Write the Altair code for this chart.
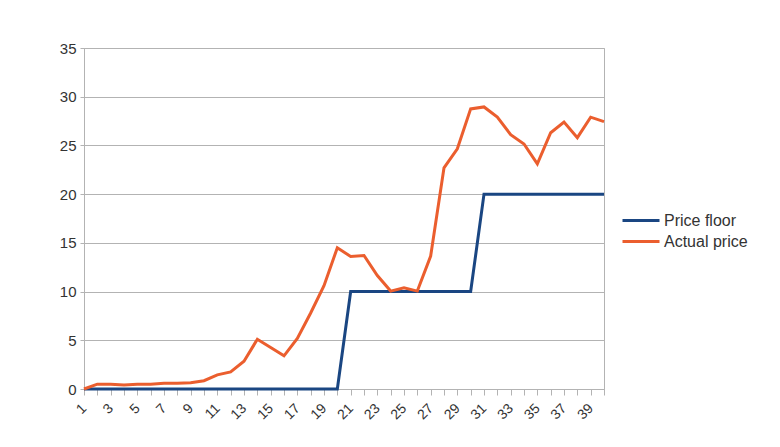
import altair as alt
import pandas as pd

periods = list(range(1, 41))
price_floor = [0]*20 + [10]*10 + [20]*10
actual_price = [0, 0.5, 0.5, 0.4, 0.5, 0.5, 0.6, 0.6, 0.65, 0.85,
                1.45, 1.75, 2.85, 5.1, 4.25, 3.4, 5.2, 7.8, 10.6, 14.5,
                13.6, 13.7, 11.65, 10.05, 10.4, 10.05, 13.65, 22.7, 24.65, 28.75,
                28.95, 27.9, 26.1, 25.15, 23.1, 26.3, 27.4, 25.8, 27.9, 27.45]
series_names = ["Price floor", "Actual price"]
colors = ["#1a4682", "#eb5e2e"]

rows = []
for i, p in enumerate(periods):
    rows.append({"period": p, "series": series_names[0], "value": price_floor[i]})
    rows.append({"period": p, "series": series_names[1], "value": actual_price[i]})
df = pd.DataFrame(rows)

font = "Liberation Sans"

chart = alt.Chart(df).mark_line(strokeWidth=3, strokeJoin="miter").encode(
    x=alt.X("period:Q", scale=alt.Scale(domain=[1, 40], nice=False, zero=False),
            axis=alt.Axis(title=None, values=periods, grid=False,
                          labelExpr="datum.value % 2 == 1 ? datum.label : ''",
                          labelAngle=-45, labelAlign="right", labelBaseline="middle",
                          labelFontSize=14, labelColor="#333333", labelFont=font,
                          tickColor="#b3b3b3", tickSize=6, domainColor="#b3b3b3",
                          labelPadding=11, labelOverlap=False)),
    y=alt.Y("value:Q", scale=alt.Scale(domain=[0, 35], nice=False),
            axis=alt.Axis(title=None, values=[0, 5, 10, 15, 20, 25, 30, 35],
                          labelFontSize=15, labelColor="#333333", labelFont=font,
                          gridColor="#b3b3b3", tickColor="#b3b3b3", tickSize=4,
                          domainColor="#b3b3b3", labelPadding=4)),
    color=alt.Color("series:N", scale=alt.Scale(domain=series_names, range=colors),
                    sort=series_names,
                    legend=alt.Legend(title=None, orient="none", legendX=537, legendY=162,
                                      symbolType="stroke", symbolSize=1369, symbolStrokeWidth=3,
                                      labelFontSize=16, labelFont=font, labelColor="#333333",
                                      clipHeight=21, rowPadding=0, labelOffset=3)),
).properties(
    width=520, height=341,
    padding={"left": 51, "top": 33, "right": 5, "bottom": 5},
).configure_view(stroke="#b3b3b3", strokeWidth=1)

chart.save("out.html", embed_options={"renderer": "svg", "actions": False})
